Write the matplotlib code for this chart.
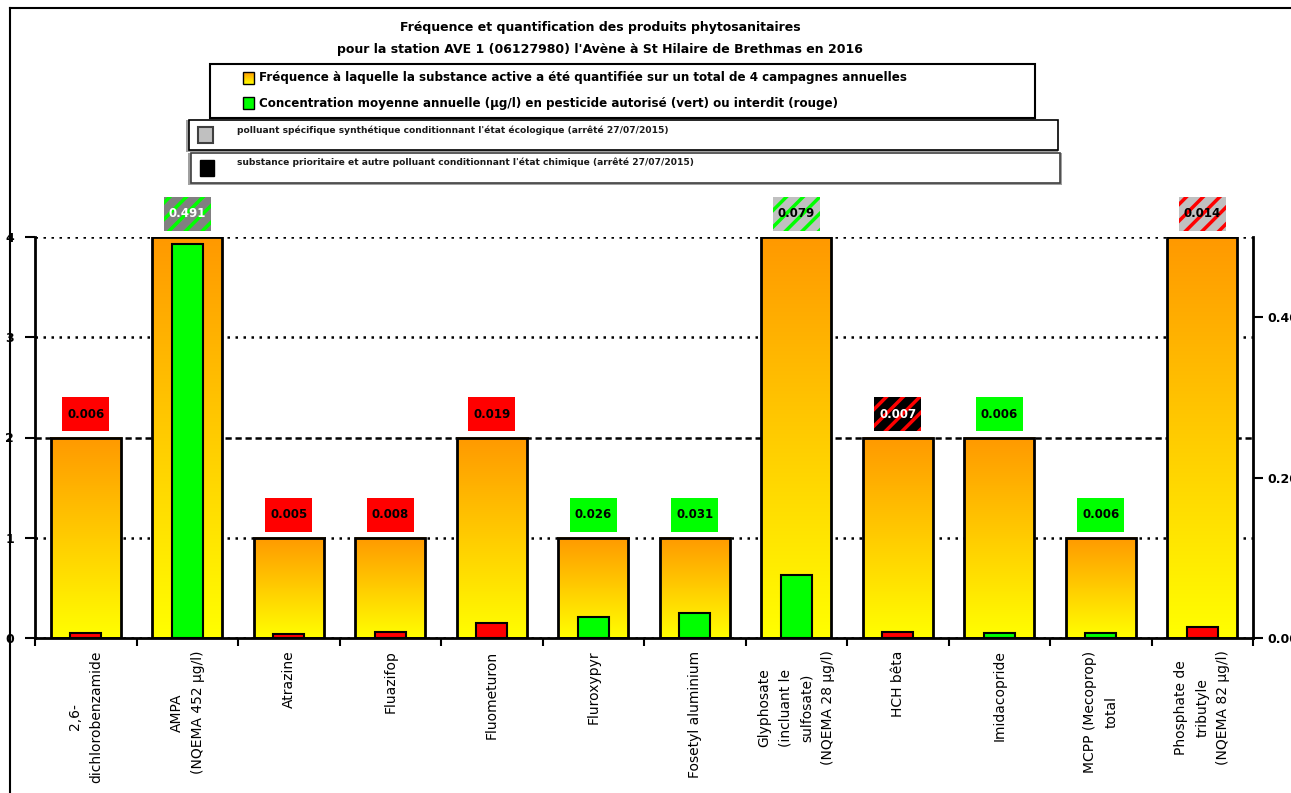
import numpy as np
import matplotlib
matplotlib.use("Agg")
import matplotlib.pyplot as plt
from matplotlib.patches import Rectangle
from matplotlib.colors import LinearSegmentedColormap

plt.rcParams['font.family'] = ['DejaVu Sans']
plt.rcParams['hatch.linewidth'] = 2.5

# substances analysées
substances = ["2,6-\ndichlorobenzamide", "AMPA\n(NQEMA 452 µg/l)", "Atrazine", "Fluazifop",
              "Fluometuron", "Fluroxypyr", "Fosetyl aluminium",
              "Glyphosate\n(incluant le\nsulfosate)\n(NQEMA 28 µg/l)", "HCH bêta",
              "Imidacopride", "MCPP (Mecoprop)\ntotal",
              "Phosphate de\ntributyle\n(NQEMA 82 µg/l)"]
# nombre de quantifications sur 4 campagnes
frequence = [2, 4, 1, 1, 2, 1, 1, 4, 2, 2, 1, 4]
# concentration moyenne annuelle (µg/l)
concentration = [0.006, 0.491, 0.005, 0.008, 0.019, 0.026, 0.031, 0.079, 0.007, 0.006, 0.006, 0.014]
# autorisé (True = vert) ou interdit (False = rouge)
autorise = [False, True, False, False, False, True, True, True, False, True, True, False]
# statut réglementaire
statut = ['', 'specifique_fonce', '', '', '', '', '', 'specifique', 'prioritaire', '', '', 'specifique']

W, H = 1291, 793
fig = plt.figure(figsize=(W / 100, H / 100), dpi=100)
cmap = LinearSegmentedColormap.from_list('oy', ['#FFFF00', '#FF9900'])
grad = np.linspace(0, 1, 256).reshape(-1, 1)

# calque pour le cadre, le titre et la légende (coordonnées en pixels)
over = fig.add_axes([0, 0, 1, 1])
over.set_xlim(0, W)
over.set_ylim(H, 0)
over.axis('off')
over.plot([10, W], [7.5, 7.5], color='black', lw=1.5)
over.plot([10, 10], [7.5, H], color='black', lw=1.5)

over.text(600, 27, "Fréquence et quantification des produits phytosanitaires",
          ha='center', va='center', fontsize=9, fontweight='bold')
over.text(600, 50, "pour la station AVE 1 (06127980) l'Avène à St Hilaire de Brethmas en 2016",
          ha='center', va='center', fontsize=9, fontweight='bold')

over.add_patch(Rectangle((210, 64), 825, 54, fc='white', ec='black', lw=1.5))
over.imshow(grad, cmap=cmap, extent=[243, 254, 84, 72], origin='lower', aspect='auto', zorder=3)
over.add_patch(Rectangle((243, 72), 11, 12, fc='none', ec='black', lw=1, zorder=4))
over.text(259, 78, "Fréquence à laquelle la substance active a été quantifiée sur un total de 4 campagnes annuelles",
          ha='left', va='center', fontsize=8.6, fontweight='bold')
over.add_patch(Rectangle((243, 97), 11, 12, fc='#00FF00', ec='black', lw=1))
over.text(259, 103, "Concentration moyenne annuelle (µg/l) en pesticide autorisé (vert) ou interdit (rouge)",
          ha='left', va='center', fontsize=8.6, fontweight='bold')
over.set_xlim(0, W)
over.set_ylim(H, 0)

over.add_patch(Rectangle((186, 120), 872, 32, fc='#A0A0A0', ec='none'))
over.add_patch(Rectangle((188.5, 120), 869.5, 30, fc='white', ec='black', lw=1.2))
over.add_patch(Rectangle((198, 127), 15, 16, fc='#C0C0C0', ec='#404040', lw=1.5))
over.text(237, 130, "polluant spécifique synthétique conditionnant l'état écologique (arrêté 27/07/2015)",
          ha='left', va='center', fontsize=6.6, fontweight='bold', color='#1a1a1a')

over.add_patch(Rectangle((188, 153), 874, 32, fc='#A0A0A0', ec='none'))
over.add_patch(Rectangle((190.5, 153), 869.5, 30, fc='white', ec='#404040', lw=1.2))
over.add_patch(Rectangle((200, 160), 14, 16, fc='black', ec='black', lw=1))
over.text(237, 162, "substance prioritaire et autre polluant conditionnant l'état chimique (arrêté 27/07/2015)",
          ha='left', va='center', fontsize=6.6, fontweight='bold', color='#1a1a1a')

# graphique principal
ax = fig.add_axes([35 / W, 1 - 638 / H, (1253 - 35) / W, (638 - 237) / H])
x = np.arange(len(substances))
ax.patch.set_alpha(0)

ax.set_yticks([0, 1, 2, 3, 4])
ax.yaxis.grid(True, color='black', lw=1.8, linestyle=(0, (1, 2.2)))
ax.get_ygridlines()[2].set_linestyle((0, (2.5, 1.5)))
ax.set_axisbelow(True)

bars = ax.bar(x, frequence, width=0.69, facecolor='none', edgecolor='black', lw=2, zorder=3)
for b in bars:
    x0, w, h = b.get_x(), b.get_width(), b.get_height()
    ax.imshow(grad, cmap=cmap, extent=[x0, x0 + w, 0, h], origin='lower', aspect='auto', zorder=2)
ax.set_xlim(-0.5, len(substances) - 0.5)
ax.set_ylim(0, 4)

# étiquettes de concentration
styles = {
    '': None,
    'specifique': ('#C0C0C0', 'black'),
    'specifique_fonce': ('#808080', 'white'),
    'prioritaire': ('black', 'white'),
}
for i, (f, c, ok, s) in enumerate(zip(frequence, concentration, autorise, statut)):
    col = '#00FF00' if ok else '#FF0000'
    yc = f + 0.23
    if styles[s] is None:
        rect = Rectangle((i - 0.23, yc - 0.17), 0.46, 0.34, fc=col, ec='none', lw=0,
                         clip_on=False, zorder=5)
        tcol = 'black'
    else:
        fc, tcol = styles[s]
        rect = Rectangle((i - 0.23, yc - 0.17), 0.46, 0.34, fc=fc, ec=col, lw=0,
                         hatch='//', clip_on=False, zorder=5)
    ax.add_patch(rect)
    ax.text(i, yc, f"{c:.3f}", ha='center', va='center', fontsize=8.5, fontweight='bold',
            color=tcol, zorder=6, clip_on=False)

ax.set_xticks(x)
ax.set_xticklabels(substances, rotation=90, fontsize=10)
for lab in ax.get_xticklabels():
    lab.set_multialignment('center')
    lab.set_linespacing(1.65)
ax.tick_params(axis='x', which='major', length=0, pad=9)
ax.set_xticks(np.arange(-0.5, len(substances), 1), minor=True)
ax.tick_params(axis='x', which='minor', length=6, width=1.5, direction='out')
ax.tick_params(axis='y', length=7, width=1.5, direction='out', labelsize=9, pad=8)
for lab in ax.get_yticklabels():
    lab.set_fontweight('bold')

for sp in ['top', 'right']:
    ax.spines[sp].set_visible(False)
ax.spines['left'].set_linewidth(2)
ax.spines['bottom'].set_linewidth(2)

# axe secondaire : concentrations
ax2 = ax.twinx()
ax2.set_ylim(0, 0.5)
ax2.bar(x, concentration, width=0.31,
        color=['#00FF00' if ok else '#FF0000' for ok in autorise],
        edgecolor='black', lw=1.5, zorder=4)
ax2.set_yticks([0, 0.2, 0.4])
ax2.set_yticklabels([f"{v:.2f}" for v in [0, 0.2, 0.4]], fontsize=9, fontweight='bold')
ax2.tick_params(axis='y', length=7, width=1.5, direction='out', pad=3)
for sp in ['top', 'left', 'bottom']:
    ax2.spines[sp].set_visible(False)
ax2.spines['right'].set_linewidth(2)

fig.savefig("out.png", dpi=100)
